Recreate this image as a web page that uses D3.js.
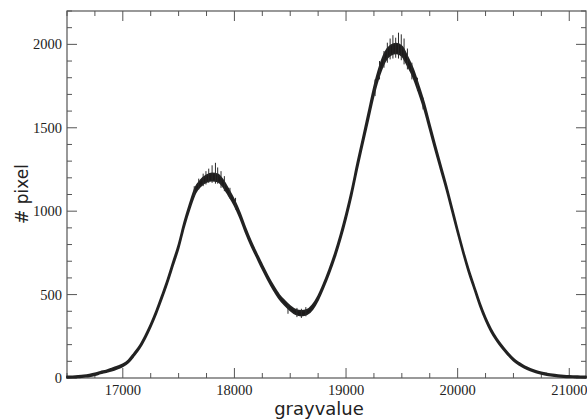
<!DOCTYPE html>
<html>
<head>
<meta charset="utf-8">
<script src="https://cdn.jsdelivr.net/npm/d3@7"></script>
<style>
  body { margin: 0; background: #fff; }
  .tick-label { font-family: "Liberation Serif", "DejaVu Serif", serif; font-size: 14.5px; fill: #222; }
  .axis-title { font-family: "DejaVu Sans", sans-serif; fill: #222; }
</style>
</head>
<body>
<svg id="chart" width="587" height="419"></svg>
<script>
// histogram, bins every 50 gray values
const grayStart = 16500;
const grayStep = 50;
const counts = [
  5, 6, 8, 11, 15, 22, 32, 40, 50, 62,
  76, 100, 140, 185, 245, 315, 395, 485, 580, 685,
  790, 920, 1030, 1125, 1170, 1195, 1205, 1200, 1165, 1110,
  1050, 975, 885, 805, 735, 665, 600, 540, 488, 450,
  418, 395, 388, 395, 425, 480, 555, 640, 735, 845,
  970, 1110, 1270, 1420, 1570, 1720, 1840, 1925, 1965, 1975,
  1960, 1900, 1830, 1735, 1630, 1505, 1380, 1260, 1140, 1010,
  880, 755, 640, 540, 440, 355, 285, 230, 185, 145,
  110, 85, 65, 50, 38, 29, 22, 17, 13, 10,
  8, 7, 6, 5
];
// half width of the noisy band at each bin
const spread = [
  4, 4, 4, 4, 5, 5, 5, 5, 6, 6,
  6, 6, 7, 7, 8, 8, 9, 10, 10, 11,
  12, 13, 14, 16, 18, 20, 22, 21, 19, 17,
  15, 14, 13, 12, 11, 11, 11, 11, 11, 12,
  12, 13, 14, 13, 12, 11, 11, 12, 13, 14,
  15, 16, 17, 18, 20, 22, 24, 26, 28, 29,
  28, 26, 23, 20, 18, 16, 15, 14, 13, 12,
  11, 10, 10, 9, 9, 8, 8, 7, 7, 6,
  6, 6, 5, 5, 5, 5, 5, 4, 4, 4,
  4, 4, 4, 4
];
// tallest spikes seen along the curve: [gray value, low count, high count]
const spikes = [
  [17640, 1090, 1150], [17680, 1130, 1195], [17720, 1150, 1225], [17745, 1160, 1240],
  [17770, 1170, 1255], [17800, 1170, 1275], [17830, 1165, 1290], [17850, 1165, 1262],
  [17880, 1140, 1240], [17910, 1120, 1210], [17960, 1075, 1140], [18010, 1010, 1080],
  [18480, 385, 440], [18560, 365, 420], [18600, 360, 415], [18640, 370, 425],
  [19260, 1690, 1790], [19300, 1790, 1900], [19340, 1860, 1960], [19370, 1890, 2010],
  [19395, 1910, 2035], [19420, 1915, 2055], [19445, 1920, 2040], [19470, 1915, 2070],
  [19495, 1905, 2060], [19520, 1880, 2035], [19550, 1850, 1975], [19590, 1790, 1890],
  [19640, 1720, 1800], [19690, 1610, 1680]
];
const xTicks = [17000, 18000, 19000, 20000, 21000];
const yTicks = [0, 500, 1000, 1500, 2000];

const svg = d3.select('#chart');
const margin = { top: 11, right: 1, bottom: 41, left: 67 };
const W = 587, H = 419;
const x = d3.scaleLinear().domain([16500, 21150]).range([margin.left, W - margin.right]);
const y = d3.scaleLinear().domain([0, 2200]).range([H - margin.bottom, margin.top]);

const bins = counts.map((c, i) => ({ g: grayStart + i * grayStep, c: c, s: spread[i] }));

// frame
const axisColor = '#555';
svg.append('rect')
  .attr('x', x(16500)).attr('y', y(2200))
  .attr('width', x(21150) - x(16500)).attr('height', y(0) - y(2200))
  .attr('fill', 'none').attr('stroke', axisColor).attr('stroke-width', 1.2);

// ticks pointing inward on all four sides
const xMinor = d3.range(16500, 21150, 250);
const yMinor = d3.range(0, 2201, 100);
const ticks = svg.append('g').attr('stroke', axisColor).attr('stroke-width', 1);
xMinor.forEach(v => {
  const len = v % 1000 === 0 ? 10 : 5;
  ticks.append('line').attr('x1', x(v)).attr('x2', x(v)).attr('y1', y(0)).attr('y2', y(0) - len);
  ticks.append('line').attr('x1', x(v)).attr('x2', x(v)).attr('y1', y(2200)).attr('y2', y(2200) + len);
});
yMinor.forEach(v => {
  const len = v % 500 === 0 ? 10 : 5;
  ticks.append('line').attr('x1', x(16500)).attr('x2', x(16500) + len).attr('y1', y(v)).attr('y2', y(v));
  ticks.append('line').attr('x1', x(21150)).attr('x2', x(21150) - len).attr('y1', y(v)).attr('y2', y(v));
});

svg.append('g').selectAll('text').data(xTicks).enter().append('text')
  .attr('class', 'tick-label')
  .attr('x', d => x(d)).attr('y', y(0) + 16.5)
  .attr('text-anchor', 'middle')
  .text(d => d);

svg.append('g').selectAll('text').data(yTicks).enter().append('text')
  .attr('class', 'tick-label')
  .attr('x', x(16500) - 5).attr('y', d => y(d) + 5)
  .attr('text-anchor', 'end')
  .text(d => d);

// noisy band
const band = d3.area()
  .x(d => x(d.g))
  .y0(d => y(Math.max(0, d.c - d.s)))
  .y1(d => y(d.c + d.s))
  .curve(d3.curveMonotoneX);
svg.append('path').datum(bins)
  .attr('d', band)
  .attr('fill', '#1c1a1a')
  .attr('stroke', '#222')
  .attr('stroke-width', 1.8)
  .attr('stroke-linejoin', 'round');

svg.append('g').selectAll('line').data(spikes).enter().append('line')
  .attr('x1', d => x(d[0])).attr('x2', d => x(d[0]))
  .attr('y1', d => y(d[1])).attr('y2', d => y(d[2]))
  .attr('stroke', '#2a2a2a').attr('stroke-width', 1);

// axis titles
svg.append('text').attr('class', 'axis-title')
  .attr('x', 319).attr('y', 415)
  .attr('text-anchor', 'middle')
  .style('font-size', '18px')
  .text('grayvalue');

svg.append('text').attr('class', 'axis-title')
  .attr('transform', 'translate(28,194) rotate(-90)')
  .attr('text-anchor', 'middle')
  .style('font-size', '17px')
  .text('# pixel');
</script>
</body>
</html>
